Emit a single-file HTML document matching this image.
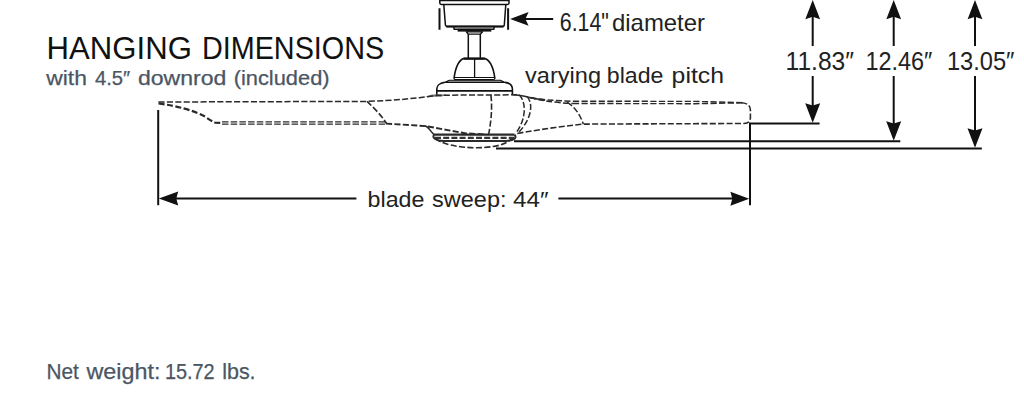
<!DOCTYPE html>
<html><head><meta charset="utf-8">
<style>
html,body{margin:0;padding:0;background:#fff;width:1024px;height:416px;overflow:hidden}
svg{display:block}
text{font-family:"Liberation Sans",sans-serif}
</style></head><body>
<svg width="1024" height="416" viewBox="0 0 1024 416">
<rect width="1024" height="416" fill="#fff"/>
<!-- texts -->
<text x="46.6" y="58.9" font-size="31" textLength="145.3" lengthAdjust="spacingAndGlyphs" fill="#111">HANGING</text>
<text x="201.9" y="58.9" font-size="31" textLength="182.3" lengthAdjust="spacingAndGlyphs" fill="#111">DIMENSIONS</text>
<text x="46.3" y="84.5" font-size="20" textLength="40.6" lengthAdjust="spacingAndGlyphs" fill="#4b5663" stroke="#4b5663" stroke-width="0.25">with</text>
<text x="94.9" y="84.5" font-size="20" textLength="35.3" lengthAdjust="spacingAndGlyphs" fill="#4b5663" stroke="#4b5663" stroke-width="0.25">4.5″</text>
<text x="137.9" y="84.5" font-size="20" textLength="88.4" lengthAdjust="spacingAndGlyphs" fill="#4b5663" stroke="#4b5663" stroke-width="0.25">downrod</text>
<text x="233.7" y="84.5" font-size="20" textLength="95.9" lengthAdjust="spacingAndGlyphs" fill="#4b5663" stroke="#4b5663" stroke-width="0.25">(included)</text>
<text x="46.5" y="378.9" font-size="22" textLength="32.4" lengthAdjust="spacingAndGlyphs" fill="#4b5663" stroke="#4b5663" stroke-width="0.25">Net</text>
<text x="86.4" y="378.9" font-size="22" textLength="74.0" lengthAdjust="spacingAndGlyphs" fill="#4b5663" stroke="#4b5663" stroke-width="0.25">weight:</text>
<text x="164.9" y="378.9" font-size="22" textLength="49.8" lengthAdjust="spacingAndGlyphs" fill="#4b5663" stroke="#4b5663" stroke-width="0.25">15.72</text>
<text x="222.2" y="378.9" font-size="22" textLength="33.4" lengthAdjust="spacingAndGlyphs" fill="#4b5663" stroke="#4b5663" stroke-width="0.25">lbs.</text>
<text x="525.1" y="82.5" font-size="22" textLength="75.9" lengthAdjust="spacingAndGlyphs" fill="#222">varying</text>
<text x="606.8" y="82.5" font-size="22" textLength="56.6" lengthAdjust="spacingAndGlyphs" fill="#222">blade</text>
<text x="671.6" y="82.5" font-size="22" textLength="52.4" lengthAdjust="spacingAndGlyphs" fill="#222">pitch</text>
<text x="367.6" y="206.8" font-size="22" textLength="56.9" lengthAdjust="spacingAndGlyphs" fill="#222">blade</text>
<text x="432.1" y="206.8" font-size="22" textLength="74.4" lengthAdjust="spacingAndGlyphs" fill="#222">sweep:</text>
<text x="513.1" y="206.8" font-size="22" textLength="35.4" lengthAdjust="spacingAndGlyphs" fill="#222">44″</text>
<text x="559.8" y="30.7" font-size="25" textLength="49.1" lengthAdjust="spacingAndGlyphs" fill="#222">6.14"</text>
<text x="612.0" y="30.7" font-size="24" textLength="93.0" lengthAdjust="spacingAndGlyphs" fill="#222">diameter</text>
<text x="785.6" y="70" font-size="25" textLength="68.4" lengthAdjust="spacingAndGlyphs" fill="#222">11.83″</text>
<text x="865.4" y="70" font-size="25" textLength="66.8" lengthAdjust="spacingAndGlyphs" fill="#222">12.46″</text>
<text x="946.9" y="70" font-size="25" textLength="67.6" lengthAdjust="spacingAndGlyphs" fill="#222">13.05″</text>

<!-- dimension lines -->
<g stroke="#111" stroke-width="2" fill="none">
<path d="M158.2,110 V205.2"/>
<path d="M750,123 V205.2"/>
<path d="M170,198.6 H356.4 M558.4,198.6 H738"/>
<path d="M749,123.5 H819.6"/>
<path d="M514,141.3 H900.3"/>
<path d="M496,148.5 H981.8"/>
<path d="M812.7,12 V46 M812.7,76 V112"/>
<path d="M893.7,12 V46 M893.7,76 V130"/>
<path d="M975,12 V46 M975,76 V137"/>
<path d="M439.5,8.2 V29.7 M508.1,8.2 V29.7"/>
<path d="M520,19 H553.2"/>
</g>
<g fill="#111">
<!-- left arrow -->
<path d="M158.8,198.5 L178.2,191.4 L176.3,198.5 L178.2,205.6 Z"/>
<path d="M749.2,198.7 L730.4,191.7 L732.3,198.7 L730.4,205.7 Z"/>
<path d="M510.1,19 L528.6,12.1 L525.4,19 L528.6,25.8 Z"/>
<path d="M812.7,0 L805.3,19.2 L812.7,16.8 L820.1,19.2 Z"/>
<path d="M893.7,0 L886.3,19.2 L893.7,16.8 L901.1,19.2 Z"/>
<path d="M975,0 L967.6,19.2 L975,16.8 L982.4,19.2 Z"/>
<path d="M812.7,122.8 L805.2,103.3 L812.7,105.5 L820.2,103.3 Z"/>
<path d="M893.7,140.8 L886.2,121.3 L893.7,123.5 L901.2,121.3 Z"/>
<path d="M975,147.8 L967.5,128.3 L975,130.5 L982.5,128.3 Z"/>
</g>

<!-- canopy / motor -->
<g stroke="#111" stroke-width="1.5" fill="none" stroke-linejoin="round">
<path d="M439.8,-2 V3 Q439.8,4.4 441.3,4.4 H507.5 Q509,4.4 509,3 V-2"/>
<path d="M439.8,0.5 H509" stroke-width="1.6"/>
<path d="M443.8,4.6 L445.4,25 Q445.6,26.5 447.2,26.5 H502.6 Q504.2,26.5 504.3,25 L505.8,4.6"/>
<path d="M446,26.5 H503.5" stroke-width="2"/>
<path d="M453.8,27 L454.2,29.3 H493.8 L494.2,27"/>
<rect x="457.6" y="28.8" width="33.7" height="2.8" fill="#111" stroke="none"/>
<path d="M466.3,31.8 H482.6 L480.3,34.2 H468.2 Z" stroke-width="1.3"/>
<path d="M468.3,34 V58.6 M480.3,34 V58.6"/>
<!-- bell -->
<path d="M463.4,58.6 H485 C489,59.5 493.4,66 494.9,78.8 M463.4,58.6 C459.8,59.5 455.5,66 454,78.8" stroke-width="1.6"/>
<path d="M463.6,58.6 H484.8" stroke-width="2.2"/>
<path d="M474.6,59 V77.5" stroke-width="1.3"/>
<path d="M454.5,77.5 H494.5" stroke-width="1.1"/>
<path d="M454,79.6 H494.7" stroke-width="1.1"/>
<path d="M449.3,80.2 H500.5 L505,82.4 H444.5 Z" fill="#aaa" stroke-width="1.1"/>
<path d="M444.5,82.4 C439.5,83 436.8,86 436.8,89 V95 M505,82.4 C510,83 512.4,86 512.4,89 V95" stroke-width="1.6"/>
<path d="M436.8,90.9 H512.4" stroke-width="1.6"/>
<path d="M425,96.8 L432,94.6 L447,94.6 L441,96.8 Z" fill="#777" stroke="none"/>
</g>

<!-- blade dashed -->
<g stroke="#2a2a2a" stroke-width="1.5" fill="none" stroke-dasharray="6.1 2.3">
<!-- left blade top -->
<path d="M158.5,102 L367,101.4 C395,100.5 415,98.5 437.9,95.2 L519,94.8" stroke-width="1.5"/>
<!-- left tip lower edge -->
<path d="M158.5,103.4 C178,106 195,111 205,116.5 Q211,121 215,122.6 L222,123" stroke-width="2.2" stroke-dasharray="6 2.5"/>
<path d="M222,121.9 H386 M222,124.1 H386" stroke-width="1.3" stroke-dasharray="6.5 2.2"/>
<path d="M386,123.6 L426,126.1 L465,133.3 L484,134.4" stroke-width="1.9"/>
<path d="M367,101.4 C374,108 382,116 386.5,123.5" stroke-width="1.6"/>
<!-- hub vertical -->
<path d="M490.9,95.2 C492.5,108 491,122 488.7,134" stroke-width="1.6"/>
<!-- hub underside solid -->
<path d="M425,125.8 C429,127 430,131 434,134.6" stroke-width="1.6" stroke-dasharray="none"/>
<path d="M434,134.7 H514.5" stroke-width="2.2" stroke-dasharray="none"/>
<path d="M434,135 C432,137.5 435,140.6 444,141 H506 C515,140.6 517,137.5 514.5,134.8" stroke-width="2" stroke-dasharray="none"/>
<path d="M435,137.8 H514" stroke-width="2.2" stroke="#333" stroke-dasharray="6 2.2"/>
<path d="M435.5,138.5 C446,149 500,152.5 512,138.5" stroke-width="1.6"/>
<!-- right blade -->
<path d="M531,97.8 C540,99.5 552,100.6 572.9,101.2" stroke-width="1.5"/>
<path d="M572.9,101.2 L695,101.4 L743,102.7" stroke-width="1.4" stroke-dasharray="6.2 2.4"/>
<path d="M572.9,103.5 L695,103.7 L740.5,102.9" stroke-width="1.4" stroke-dasharray="6.2 2.4"/>
<path d="M741,102.8 Q750.4,103.1 750.4,110 V117.5 Q750.4,123.5 744,123.5 L583.3,124.1 C560,126.5 540,129.5 515.6,133.7" stroke-width="1.6"/>
<path d="M529.9,97.6 C540,100.2 552,102.5 572.9,103.5" stroke-width="1.5"/>
<path d="M567,102.4 C574,106 580,114 583.3,124.1"/>
<path d="M519,94.8 C526,101 527,118 516,133"/>
<path d="M526.9,96.5 C533,102 533,118 517.8,133.3"/>
<path d="M512.4,94.7 C520,94.7 526,96.5 531,97.8 C536,99 540,99.6 545,100.2" stroke-width="1.6" stroke-dasharray="none"/>
</g>
</svg>
</body></html>
